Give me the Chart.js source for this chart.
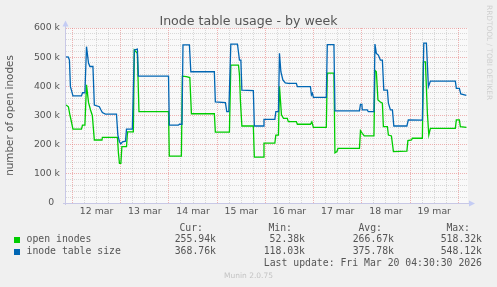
<!DOCTYPE html>
<html><head><meta charset="utf-8">
<script src="https://cdn.jsdelivr.net/npm/chart.js@4/dist/chart.umd.min.js"></script>
<style>
html,body{margin:0;padding:0;background:#f0f0f0;}
#wrap{position:relative;width:497px;height:287px;overflow:hidden;background:#f0f0f0;}
#c{position:absolute;left:0;top:0;}
.abs{position:absolute;white-space:pre;}
.mono{font-family:"DejaVu Sans Mono",monospace;font-size:9.8px;line-height:12px;color:#555;}
#title{left:0;width:497px;text-align:center;top:13px;font-family:"DejaVu Sans",sans-serif;font-size:12.6px;line-height:15px;color:#555;}
#munin{left:0;width:497px;text-align:center;top:271px;font-family:"DejaVu Sans",sans-serif;font-size:7.5px;line-height:10px;color:#c4c4c4;}
#rrd{left:485px;top:5px;writing-mode:vertical-rl;font-family:"DejaVu Sans",sans-serif;font-size:7.4px;line-height:9px;color:#cfcfcf;}
.sq{position:absolute;width:6px;height:6px;}
</style></head>
<body><div id="wrap"><canvas id="c" width="497" height="287"></canvas></div>
<script>
// ---------------- data ----------------
const chartTitle = 'Inode table usage - by week';
const yAxisTitle = 'number of open inodes';
const dayLabels = ['12 mar','13 mar','14 mar','15 mar','16 mar','17 mar','18 mar','19 mar'];
// hours since 12 mar 00:00, values in thousands
const openHours = [-3.2,-2.0,-1.2,-0.7,0.25,4.5,5.0,6.2,7.0,8.0,9.0,9.9,10.9,14.7,14.9,22.4,22.9,23.4,24.1,24.6,26.9,27.4,30.3,30.8,32.3,33.1,47.8,48.2,54.2,54.7,56.7,58.4,59.2,70.6,71.1,78.1,78.8,82.6,83.1,83.6,84.3,90.0,90.5,95.0,95.3,100.7,101.2,102.5,103.0,104.0,105.0,106.9,107.4,111.4,111.9,118.4,119.1,119.9,126.3,126.8,130.1,130.6,131.6,132.1,142.8,143.3,144.2,145.2,150.0,150.5,151.2,152.0,153.2,154.2,154.7,156.7,157.2,158.7,159.7,166.4,166.9,168.7,169.1,174.1,174.6,175.6,176.6,177.3,178.1,190.5,191.0,192.5,193.0,196.0];
const openValues = [336,330,300,285,253,253,267,267,405,345,319,300,216,216,225,225,170,136,136,193,193,244,244,525,513,313,313,161,161,435,433,430,306,306,243,243,473,473,440,347,264,264,157,157,205,205,233,233,400,302,290,290,279,279,270,270,278,259,259,445,445,172,176,187,187,248,239,230,230,455,450,353,346,342,262,262,233,230,176,178,214,216,222,222,484,484,307,233,256,256,285,285,262,259];
const tableHours = [-3.2,-2.0,-1.5,-1.0,-0.5,0.25,4.5,5.0,6.2,7.0,8.0,8.7,10.2,10.9,13.4,14.2,14.9,16.4,21.9,22.6,23.4,24.1,24.9,26.4,26.9,29.8,30.8,32.3,32.8,47.8,48.2,52.7,53.2,54.5,55.0,58.2,58.9,70.6,71.1,76.1,76.8,77.8,78.8,82.1,83.1,83.8,84.3,90.0,90.5,95.0,95.3,100.7,101.2,102.5,103.0,103.7,104.7,105.9,107.4,111.4,111.9,118.4,118.9,119.4,119.9,126.3,126.8,130.1,130.6,142.8,143.3,144.0,144.2,146.7,147.2,150.0,150.5,151.2,152.2,153.2,154.2,154.9,156.7,157.2,158.2,159.2,159.9,166.4,167.1,174.1,174.8,176.1,177.1,178.1,190.5,191.0,192.5,193.2,196.0];
const tableValues = [501,500,490,399,387,367,367,378,378,536,480,468,468,336,330,319,310,305,305,233,210,203,210,212,253,253,525,528,435,435,267,267,270,270,542,542,450,450,347,344,313,313,545,545,490,490,387,385,264,264,287,287,313,313,513,450,422,412,410,410,399,399,370,376,362,362,543,543,316,316,338,338,319,319,313,313,545,513,507,490,490,387,387,342,319,319,264,264,285,284,548,548,399,418,418,393,393,374,369];
const yTickValues = [0,100,200,300,400,500,600];
const seriesNames = ['open inodes','inode table size'];
const statHeaders = ['Cur:','Min:','Avg:','Max:'];
const curValues = [255.94, 368.76];
const minValues = [52.38, 118.03];
const avgValues = [266.67, 375.78];
const maxValues = [518.32, 548.12];
const lastUpdate = 'Fri Mar 20 04:30:30 2026';
const footer = 'Munin 2.0.75';
const watermark = 'RRDTOOL / TOBI OETIKER';

// ---------------- styles ----------------
const COL_OPEN = '#00cc00', COL_TABLE = '#0066b3';
const MAJOR = 'rgba(228,120,120,0.55)', MINOR = 'rgba(175,175,175,0.45)';
const TXT = '#555';

const wrap = document.getElementById('wrap');
function addDiv(cls, text, css) {
  const d = document.createElement('div');
  d.className = cls; d.textContent = text;
  Object.assign(d.style, css || {});
  wrap.appendChild(d); return d;
}
addDiv('abs', chartTitle).id = 'title';
addDiv('abs', footer).id = 'munin';
addDiv('abs', watermark).id = 'rrd';

// legend
const headRight = [203, 292, 382, 470];
const valRight = [216, 305, 394, 482];
statHeaders.forEach((h, i) => addDiv('abs mono', h, {right: (497 - headRight[i]) + 'px', top: '221.6px'}));
const stats = [curValues, minValues, avgValues, maxValues];
const rowTops = [232.9, 244.7];
const sqTops = [237, 249];
const sqCols = [COL_OPEN, COL_TABLE];
seriesNames.forEach((n, r) => {
  const s = document.createElement('div'); s.className = 'sq';
  s.style.left = '14px'; s.style.top = sqTops[r] + 'px'; s.style.background = sqCols[r];
  wrap.appendChild(s);
  addDiv('abs mono', n, {left: '26.5px', top: rowTops[r] + 'px'});
  stats.forEach((arr, i) => addDiv('abs mono', arr[r].toFixed(2) + 'k', {right: (497 - valRight[i]) + 'px', top: rowTops[r] + 'px'}));
});
addDiv('abs mono', 'Last update: ' + lastUpdate, {right: (497 - 482) + 'px', top: '257.3px'});

// plugins
const bgPlugin = {
  id: 'bg',
  beforeDraw(chart) {
    const {ctx, chartArea: a} = chart;
    ctx.save(); ctx.fillStyle = '#f9f9f9';
    ctx.fillRect(a.left, a.top, a.right - a.left, a.bottom - a.top);
    ctx.restore();
  },
  beforeDatasetsDraw(chart) {
    const {ctx, chartArea: a} = chart;
    ctx.save();
    ctx.strokeStyle = '#c8c8e6'; ctx.lineWidth = 1;
    ctx.beginPath();
    ctx.moveTo(a.left - 0.5, a.bottom + 2); ctx.lineTo(a.left - 0.5, a.top - 5);
    ctx.moveTo(a.left - 3, a.bottom + 0.5); ctx.lineTo(a.right + 3, a.bottom + 0.5);
    ctx.stroke();
    ctx.fillStyle = '#c4ccf4';
    ctx.beginPath();
    ctx.moveTo(a.left - 3.5, a.top - 1.5); ctx.lineTo(a.left + 2.5, a.top - 1.5); ctx.lineTo(a.left - 0.5, a.top - 7.5); ctx.closePath(); ctx.fill();
    ctx.beginPath();
    ctx.moveTo(a.right + 1, a.bottom - 2.5); ctx.lineTo(a.right + 1, a.bottom + 3.5); ctx.lineTo(a.right + 7, a.bottom + 0.5); ctx.closePath(); ctx.fill();
    ctx.restore();
  }
};

new Chart(document.getElementById('c'), {
  type: 'line',
  data: {
    datasets: [
      {label: seriesNames[1], data: tableHours.map((h, i) => ({x: h, y: tableValues[i]})), borderColor: COL_TABLE, borderWidth: 1.3, pointRadius: 0, tension: 0, fill: false, order: 0},
      {label: seriesNames[0], data: openHours.map((h, i) => ({x: h, y: openValues[i]})), borderColor: COL_OPEN, borderWidth: 1.3, pointRadius: 0, tension: 0, fill: false, order: 1}
    ]
  },
  options: {
    responsive: false, animation: false, devicePixelRatio: 1,
    layout: {padding: {left: 0, right: 29, top: 28, bottom: 64}},
    plugins: {legend: {display: false}, tooltip: {enabled: false}, title: {display: false}},
    scales: {
      x: {
        type: 'linear', min: -3.2, max: 196.8,
        afterFit(s) { s.height = 20; },
        ticks: {
          stepSize: 6, includeBounds: false, autoSkip: false, maxRotation: 0, minRotation: 0, padding: 3,
          color: TXT, font: {family: 'DejaVu Sans', size: 9.3},
          callback(v) { return (v % 24 === 12) ? dayLabels[(v - 12) / 24] : ''; }
        },
        grid: {drawTicks: false, lineWidth: 1, color(c) { return (c.tick && c.tick.value % 24 === 0) ? MAJOR : MINOR; }},
        border: {display: false, dash: [1, 1]}
      },
      y: {
        type: 'linear', min: 0, max: 600,
        afterFit(s) { s.width = 66; },
        ticks: {
          stepSize: 20, autoSkip: false, padding: 6,
          color: TXT, font: {family: 'DejaVu Sans', size: 9.3},
          callback(v) { return yTickValues.includes(v) ? (v === 0 ? '0  ' : v + ' k') : ''; }
        },
        grid: {drawTicks: false, lineWidth: 1, color(c) { return (c.tick && c.tick.value % 100 === 0) ? MAJOR : MINOR; }},
        border: {display: false, dash: [1, 1]},
        title: {display: true, text: yAxisTitle, color: TXT, font: {family: 'DejaVu Sans', size: 10.4}, padding: {top: 4.5, bottom: 0}}
      }
    }
  },
  plugins: [bgPlugin]
});
</script>
</body></html>
